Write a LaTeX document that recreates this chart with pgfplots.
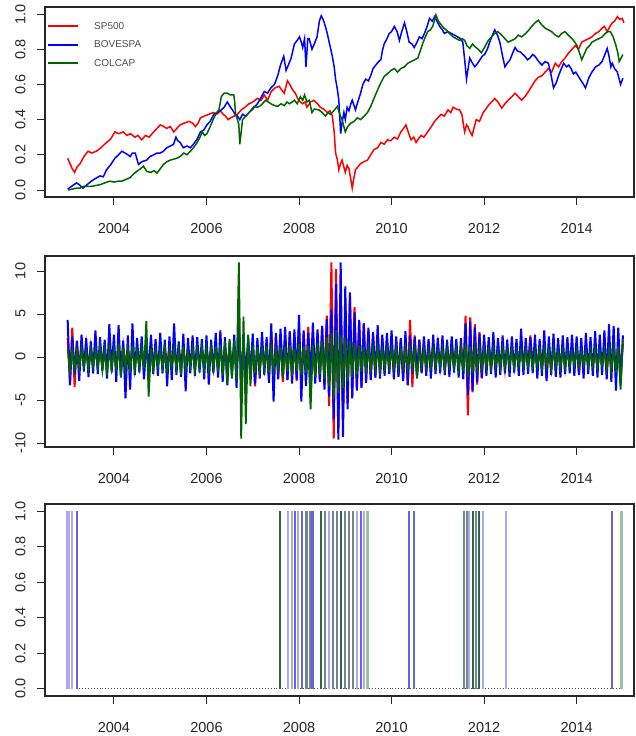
\documentclass[border=0pt]{standalone}
\usepackage{fontspec}
\setmainfont{Liberation Sans}
\usepackage{pgfplots}
\pgfplotsset{compat=1.18}
\definecolor{rred}{RGB}{255,0,0}
\definecolor{rblue}{RGB}{0,0,255}
\definecolor{rgreen}{RGB}{0,100,0}
\definecolor{lav}{RGB}{170,170,238}
\definecolor{mblue}{RGB}{100,100,220}
\definecolor{slate}{RGB}{112,135,140}
\definecolor{dgreen}{RGB}{50,100,70}
\definecolor{lgreen}{RGB}{155,195,155}
\pgfplotsset{
  rpanel/.style={
    scale only axis, width=589pt,
    xmin=2002.51, xmax=2015.24,
    xtick={2004,2006,2008,2010,2012,2014},
    axis line style={line width=1.1pt, black!85},
    tick style={line width=0.9pt, black!85},
    tick align=outside, major tick length=8pt,
    xtick pos=lower, ytick pos=left,
    /pgf/number format/assume math mode=true,
    /pgf/number format/1000 sep={},
    ticklabel style={font=\fontsize{14.5}{14.5}\selectfont, text=black!85},
    xticklabel style={yshift=-15pt},
    yticklabel style={rotate=90, anchor=south, yshift=8pt},
    clip=true,
  }
}
\begin{document}
\begin{tikzpicture}[x=1pt,y=1pt]
\useasboundingbox (0,0) rectangle (636,-736);
% ---------------- Panel 1: normalized prices
\begin{axis}[rpanel, at={(45pt,-7pt)}, anchor=north west, height=190pt,
  ymin=-0.04, ymax=1.04, ytick={0,0.2,0.4,0.6,0.8,1},
  yticklabel style={/pgf/number format/.cd, fixed, fixed zerofill, precision=1},
  legend style={at={(rel axis cs:0,1)}, anchor=north west, draw=none, fill=none,
    font=\fontsize{10}{12}\selectfont, text=black!70, row sep=6pt,
    inner xsep=2pt, inner ysep=13pt,
    /tikz/every odd column/.append style={column sep=13pt}},
  legend cell align=left,
  legend image code/.code={\draw[#1, line width=2pt] (0pt,0pt) -- (30pt,0pt);},
]
\addplot[rred, line width=1.5pt] coordinates {
(2003.00,0.18)(2003.05,0.15)(2003.10,0.12)(2003.15,0.10)(2003.20,0.13)(2003.27,0.15)(2003.35,0.19)(2003.44,0.22)(2003.52,0.21)(2003.62,0.22)(2003.72,0.24)(2003.84,0.27)(2003.93,0.29)
(2004.02,0.33)(2004.10,0.32)(2004.20,0.33)(2004.28,0.31)(2004.36,0.32)(2004.45,0.30)(2004.52,0.31)(2004.60,0.285)(2004.68,0.31)(2004.76,0.30)(2004.86,0.33)(2004.93,0.35)
(2005.00,0.37)(2005.08,0.36)(2005.14,0.35)(2005.22,0.36)(2005.29,0.33)(2005.36,0.35)(2005.43,0.37)(2005.52,0.38)(2005.62,0.39)(2005.70,0.38)(2005.76,0.36)(2005.82,0.38)(2005.87,0.41)(2005.95,0.42)
(2006.05,0.43)(2006.15,0.44)(2006.22,0.43)(2006.30,0.45)(2006.36,0.43)(2006.41,0.42)(2006.47,0.40)(2006.52,0.41)(2006.60,0.42)(2006.67,0.43)(2006.75,0.455)(2006.83,0.47)(2006.92,0.49)
(2007.00,0.50)(2007.10,0.52)(2007.18,0.51)(2007.25,0.54)(2007.32,0.51)(2007.40,0.56)(2007.48,0.58)(2007.57,0.59)(2007.62,0.57)(2007.68,0.55)(2007.75,0.62)(2007.80,0.60)(2007.86,0.57)(2007.92,0.55)(2007.97,0.52)
(2008.03,0.50)(2008.08,0.49)(2008.13,0.50)(2008.17,0.47)(2008.25,0.50)(2008.32,0.51)(2008.40,0.49)(2008.46,0.47)(2008.53,0.46)(2008.61,0.44)(2008.67,0.45)(2008.72,0.42)(2008.76,0.33)(2008.79,0.21)(2008.83,0.17)(2008.86,0.115)(2008.90,0.15)(2008.93,0.17)(2008.97,0.13)
(2009.00,0.10)(2009.04,0.14)(2009.08,0.12)(2009.12,0.06)(2009.15,0.01)(2009.18,0.06)(2009.22,0.115)(2009.27,0.13)(2009.33,0.15)(2009.40,0.16)(2009.48,0.17)(2009.55,0.20)(2009.62,0.23)(2009.70,0.24)(2009.77,0.27)(2009.84,0.26)(2009.91,0.285)(2009.98,0.28)
(2010.06,0.30)(2010.13,0.29)(2010.20,0.33)(2010.26,0.35)(2010.31,0.37)(2010.36,0.33)(2010.42,0.285)(2010.48,0.30)(2010.53,0.27)(2010.58,0.29)(2010.64,0.31)(2010.70,0.30)(2010.78,0.33)(2010.86,0.36)(2010.93,0.39)
(2011.00,0.41)(2011.07,0.43)(2011.14,0.42)(2011.22,0.455)(2011.28,0.44)(2011.33,0.47)(2011.40,0.46)(2011.47,0.455)(2011.52,0.43)(2011.56,0.36)(2011.58,0.33)(2011.62,0.37)(2011.65,0.36)(2011.70,0.33)(2011.74,0.31)(2011.79,0.36)(2011.83,0.40)(2011.90,0.39)(2011.98,0.44)
(2012.04,0.46)(2012.09,0.48)(2012.16,0.50)(2012.23,0.52)(2012.30,0.50)(2012.38,0.465)(2012.45,0.49)(2012.52,0.51)(2012.60,0.53)(2012.67,0.55)(2012.74,0.53)(2012.81,0.51)(2012.88,0.53)(2012.96,0.56)
(2013.03,0.59)(2013.10,0.62)(2013.17,0.64)(2013.25,0.65)(2013.32,0.67)(2013.39,0.69)(2013.46,0.67)(2013.54,0.72)(2013.61,0.70)(2013.68,0.73)(2013.75,0.75)(2013.83,0.78)(2013.90,0.80)(2013.97,0.82)
(2014.04,0.80)(2014.11,0.84)(2014.18,0.85)(2014.26,0.86)(2014.33,0.87)(2014.41,0.89)(2014.48,0.90)(2014.55,0.92)(2014.60,0.93)(2014.66,0.90)(2014.72,0.93)(2014.77,0.95)(2014.82,0.96)(2014.88,0.985)(2014.93,0.97)(2014.99,0.975)(2015.02,0.95)
};
\addlegendentry{SP500}
\addplot[rblue, line width=1.5pt] coordinates {
(2003.00,0.005)(2003.08,0.02)(2003.19,0.04)(2003.25,0.03)(2003.33,0.01)(2003.42,0.03)(2003.51,0.05)(2003.60,0.065)(2003.70,0.08)(2003.77,0.075)(2003.84,0.115)(2003.92,0.14)
(2004.02,0.18)(2004.10,0.20)(2004.17,0.22)(2004.24,0.21)(2004.30,0.20)(2004.35,0.19)(2004.40,0.21)(2004.46,0.21)(2004.53,0.145)(2004.60,0.16)(2004.71,0.17)(2004.78,0.19)(2004.86,0.20)(2004.93,0.21)
(2005.00,0.21)(2005.07,0.22)(2005.14,0.24)(2005.22,0.25)(2005.29,0.26)(2005.34,0.30)(2005.38,0.28)(2005.43,0.27)(2005.50,0.24)(2005.58,0.25)(2005.65,0.24)(2005.72,0.26)(2005.80,0.29)(2005.87,0.33)(2005.94,0.34)
(2006.01,0.37)(2006.08,0.39)(2006.16,0.43)(2006.23,0.44)(2006.30,0.45)(2006.38,0.47)(2006.45,0.50)(2006.52,0.47)(2006.56,0.455)(2006.62,0.43)(2006.67,0.42)(2006.72,0.40)(2006.78,0.43)(2006.85,0.42)(2006.92,0.44)
(2007.00,0.46)(2007.10,0.49)(2007.17,0.52)(2007.25,0.56)(2007.32,0.55)(2007.39,0.58)(2007.47,0.60)(2007.54,0.65)(2007.60,0.71)(2007.67,0.76)(2007.72,0.68)(2007.77,0.71)(2007.83,0.75)(2007.90,0.83)(2007.96,0.85)
(2008.01,0.87)(2008.05,0.84)(2008.08,0.81)(2008.12,0.86)(2008.15,0.70)(2008.19,0.86)(2008.22,0.86)(2008.28,0.80)(2008.33,0.83)(2008.39,0.87)(2008.44,0.96)(2008.48,0.99)(2008.52,0.97)(2008.57,0.93)(2008.61,0.89)(2008.66,0.83)(2008.72,0.76)(2008.76,0.70)(2008.79,0.63)(2008.83,0.57)(2008.86,0.51)(2008.88,0.42)(2008.90,0.32)(2008.93,0.38)(2008.97,0.44)
(2009.00,0.40)(2009.04,0.47)(2009.08,0.45)(2009.12,0.49)(2009.15,0.51)(2009.19,0.48)(2009.22,0.455)(2009.27,0.50)(2009.33,0.55)(2009.38,0.60)(2009.44,0.63)(2009.50,0.62)(2009.55,0.65)(2009.60,0.69)(2009.66,0.71)(2009.72,0.73)(2009.77,0.74)(2009.80,0.79)(2009.84,0.83)(2009.90,0.86)(2009.95,0.89)
(2010.00,0.90)(2010.06,0.93)(2010.12,0.90)(2010.17,0.85)(2010.22,0.90)(2010.28,0.95)(2010.33,0.90)(2010.38,0.84)(2010.44,0.83)(2010.49,0.81)(2010.55,0.84)(2010.60,0.87)(2010.66,0.86)(2010.71,0.89)(2010.77,0.93)(2010.82,0.975)(2010.88,0.96)(2010.93,0.985)(2010.98,0.96)
(2011.04,0.93)(2011.10,0.91)(2011.14,0.89)(2011.22,0.90)(2011.29,0.89)(2011.36,0.88)(2011.43,0.87)(2011.49,0.86)(2011.54,0.84)(2011.58,0.74)(2011.62,0.63)(2011.66,0.70)(2011.69,0.75)(2011.75,0.72)(2011.80,0.70)(2011.86,0.72)(2011.91,0.74)(2011.96,0.76)
(2012.01,0.77)(2012.07,0.80)(2012.12,0.84)(2012.18,0.88)(2012.23,0.91)(2012.29,0.88)(2012.34,0.84)(2012.40,0.76)(2012.45,0.70)(2012.50,0.72)(2012.56,0.74)(2012.62,0.78)(2012.67,0.81)(2012.72,0.79)(2012.78,0.785)(2012.84,0.77)(2012.88,0.76)(2012.94,0.74)(2012.99,0.75)
(2013.05,0.77)(2013.10,0.76)(2013.18,0.73)(2013.25,0.71)(2013.32,0.73)(2013.39,0.72)(2013.45,0.65)(2013.50,0.58)(2013.56,0.61)(2013.61,0.65)(2013.67,0.69)(2013.72,0.72)(2013.78,0.70)(2013.83,0.71)(2013.88,0.69)(2013.93,0.66)(2013.98,0.67)
(2014.04,0.645)(2014.10,0.62)(2014.15,0.60)(2014.19,0.58)(2014.23,0.61)(2014.26,0.635)(2014.33,0.67)(2014.41,0.70)(2014.48,0.71)(2014.55,0.73)(2014.61,0.77)(2014.66,0.805)(2014.70,0.76)(2014.74,0.70)(2014.77,0.72)(2014.82,0.69)(2014.88,0.67)(2014.92,0.63)(2014.95,0.60)(2015.00,0.635)
};
\addlegendentry{BOVESPA}
\addplot[rgreen, line width=1.5pt] coordinates {
(2003.01,0.00)(2003.10,0.005)(2003.18,0.01)(2003.26,0.01)(2003.34,0.02)(2003.41,0.02)(2003.50,0.02)(2003.60,0.025)(2003.70,0.03)(2003.80,0.04)(2003.91,0.05)
(2004.00,0.045)(2004.10,0.05)(2004.17,0.05)(2004.26,0.06)(2004.35,0.07)(2004.42,0.09)(2004.49,0.105)(2004.57,0.12)(2004.64,0.135)(2004.71,0.105)(2004.80,0.10)(2004.87,0.11)(2004.93,0.096)
(2005.00,0.12)(2005.07,0.145)(2005.14,0.16)(2005.22,0.17)(2005.29,0.175)(2005.36,0.18)(2005.43,0.19)(2005.51,0.21)(2005.58,0.20)(2005.65,0.22)(2005.72,0.24)(2005.80,0.27)(2005.86,0.30)(2005.91,0.33)(2005.96,0.31)
(2006.01,0.32)(2006.08,0.36)(2006.16,0.41)(2006.22,0.44)(2006.27,0.455)(2006.30,0.50)(2006.32,0.53)(2006.38,0.55)(2006.45,0.55)(2006.52,0.54)(2006.59,0.54)(2006.61,0.50)(2006.63,0.43)(2006.67,0.40)(2006.70,0.37)(2006.72,0.26)(2006.75,0.33)(2006.78,0.40)(2006.85,0.42)(2006.92,0.44)
(2007.03,0.475)(2007.10,0.47)(2007.17,0.48)(2007.28,0.51)(2007.34,0.50)(2007.39,0.49)(2007.47,0.48)(2007.54,0.475)(2007.61,0.49)(2007.68,0.48)(2007.74,0.50)(2007.79,0.49)(2007.85,0.50)(2007.90,0.51)(2007.96,0.49)
(2008.03,0.53)(2008.08,0.51)(2008.12,0.54)(2008.17,0.50)(2008.22,0.51)(2008.28,0.44)(2008.33,0.46)(2008.43,0.455)(2008.50,0.44)(2008.57,0.42)(2008.63,0.44)(2008.68,0.43)(2008.75,0.45)(2008.83,0.475)(2008.88,0.43)(2008.93,0.40)(2008.97,0.36)
(2009.00,0.33)(2009.05,0.36)(2009.12,0.38)(2009.19,0.39)(2009.26,0.41)(2009.33,0.40)(2009.41,0.42)(2009.48,0.44)(2009.55,0.475)(2009.62,0.52)(2009.70,0.57)(2009.77,0.61)(2009.84,0.645)(2009.91,0.66)(2009.99,0.68)
(2010.06,0.69)(2010.13,0.67)(2010.20,0.69)(2010.28,0.70)(2010.35,0.72)(2010.42,0.73)(2010.50,0.74)(2010.57,0.75)(2010.62,0.79)(2010.67,0.83)(2010.73,0.87)(2010.78,0.90)(2010.84,0.91)(2010.89,0.93)(2010.96,0.995)
(2011.01,0.96)(2011.07,0.94)(2011.13,0.92)(2011.18,0.91)(2011.25,0.89)(2011.33,0.87)(2011.40,0.86)(2011.47,0.85)(2011.53,0.86)(2011.58,0.85)(2011.63,0.82)(2011.69,0.805)(2011.75,0.83)(2011.80,0.815)(2011.87,0.80)(2011.94,0.78)
(2012.01,0.81)(2012.09,0.85)(2012.16,0.87)(2012.23,0.89)(2012.30,0.90)(2012.38,0.88)(2012.45,0.86)(2012.52,0.84)(2012.60,0.85)(2012.67,0.86)(2012.74,0.88)(2012.81,0.87)(2012.90,0.89)(2012.97,0.91)
(2013.03,0.93)(2013.10,0.95)(2013.17,0.965)(2013.24,0.94)(2013.32,0.92)(2013.39,0.91)(2013.46,0.90)(2013.54,0.88)(2013.61,0.87)(2013.68,0.89)(2013.75,0.90)(2013.82,0.88)(2013.90,0.86)(2013.96,0.84)
(2014.01,0.82)(2014.06,0.78)(2014.11,0.74)(2014.16,0.77)(2014.22,0.805)(2014.28,0.82)(2014.33,0.84)(2014.40,0.85)(2014.48,0.86)(2014.55,0.87)(2014.62,0.89)(2014.68,0.90)(2014.73,0.90)(2014.79,0.87)(2014.84,0.83)(2014.89,0.78)(2014.92,0.73)(2014.96,0.75)(2015.00,0.77)
};
\addlegendentry{COLCAP}
\end{axis}
% ---------------- Panel 2: returns
\begin{axis}[rpanel, at={(45pt,-256pt)}, anchor=north west, height=191pt,
  ymin=-10.47, ymax=11.74, ytick={-10,-5,0,5,10}]
\addplot[rred, line width=2pt] coordinates {
(2003.00,2.2)(2003.05,-2.9)(2003.10,3.4)(2003.15,-3.5)(2003.20,1.8)(2003.25,-1.5)(2003.30,1.6)(2003.35,-1.2)(2003.40,1.4)(2003.45,-1.3)(2003.50,1.2)(2003.55,-1.1)(2003.60,1.3)(2003.65,-1.0)(2003.70,1.1)(2003.75,-1.2)(2003.80,1.0)(2003.85,-0.9)(2003.90,1.2)(2003.95,-1.0)
(2004.00,1.1)(2004.05,-1.2)(2004.10,1.0)(2004.15,-1.4)(2004.20,1.3)(2004.25,-0.9)(2004.30,1.0)(2004.35,-1.1)(2004.40,1.2)(2004.45,-1.0)(2004.50,0.9)(2004.55,-1.1)(2004.60,1.0)(2004.65,-0.8)(2004.70,0.9)(2004.75,-1.0)(2004.80,1.1)(2004.85,-0.9)(2004.90,1.0)(2004.95,-0.8)
(2005.00,0.9)(2005.05,-1.1)(2005.10,1.0)(2005.15,-0.9)(2005.20,1.1)(2005.25,-1.0)(2005.30,0.9)(2005.35,-1.2)(2005.40,1.0)(2005.45,-0.8)(2005.50,0.9)(2005.55,-1.0)(2005.60,1.1)(2005.65,-0.9)(2005.70,1.0)(2005.75,-1.1)(2005.80,0.9)(2005.85,-0.8)(2005.90,1.0)(2005.95,-0.9)
(2006.00,1.0)(2006.05,-0.9)(2006.10,1.1)(2006.15,-1.2)(2006.20,1.3)(2006.25,-1.6)(2006.30,1.2)(2006.35,-1.0)(2006.40,1.1)(2006.45,-0.9)(2006.50,1.0)(2006.55,-1.1)(2006.60,0.9)(2006.65,-1.0)(2006.70,1.2)(2006.75,-0.8)(2006.80,0.9)(2006.85,-1.0)(2006.90,1.0)(2006.95,-0.9)
(2007.00,1.1)(2007.05,-3.4)(2007.10,1.4)(2007.15,-1.3)(2007.20,1.6)(2007.25,-1.4)(2007.30,1.5)(2007.35,-2.6)(2007.40,2.9)(2007.45,-3.1)(2007.50,2.5)(2007.55,-2.2)(2007.60,2.6)(2007.65,-2.9)(2007.70,2.3)(2007.75,-2.7)(2007.80,3.0)(2007.85,-2.4)(2007.90,2.5)(2007.95,-2.8)
(2008.00,3.4)(2008.05,-3.2)(2008.10,2.9)(2008.15,-2.6)(2008.20,3.5)(2008.25,-3.0)(2008.30,2.7)(2008.35,-2.5)(2008.40,2.8)(2008.45,-2.6)(2008.50,3.6)(2008.55,-3.3)(2008.60,4.8)(2008.65,-5.7)(2008.70,11.0)(2008.75,-9.5)(2008.80,10.2)(2008.85,-8.4)(2008.90,6.8)(2008.95,-7.2)
(2009.00,6.2)(2009.05,-5.4)(2009.10,7.1)(2009.15,-4.6)(2009.20,5.8)(2009.25,-3.7)(2009.30,4.2)(2009.35,-3.4)(2009.40,3.9)(2009.45,-2.8)(2009.50,3.1)(2009.55,-2.5)(2009.60,2.7)(2009.65,-2.4)(2009.70,2.3)(2009.75,-2.0)(2009.80,2.1)(2009.85,-1.9)(2009.90,2.0)(2009.95,-1.8)
(2010.00,2.2)(2010.05,-2.0)(2010.10,1.9)(2010.15,-2.1)(2010.20,2.0)(2010.25,-2.6)(2010.30,2.4)(2010.35,-3.2)(2010.40,4.3)(2010.45,-3.5)(2010.50,2.5)(2010.55,-2.2)(2010.60,2.0)(2010.65,-1.8)(2010.70,1.7)(2010.75,-1.6)(2010.80,1.8)(2010.85,-1.4)(2010.90,1.5)(2010.95,-1.3)
(2011.00,1.4)(2011.05,-1.2)(2011.10,1.3)(2011.15,-1.5)(2011.20,1.4)(2011.25,-1.6)(2011.30,1.8)(2011.35,-1.3)(2011.40,1.5)(2011.45,-1.4)(2011.50,1.2)(2011.55,-1.8)(2011.60,4.8)(2011.65,-6.8)(2011.70,4.6)(2011.75,-4.1)(2011.80,3.8)(2011.85,-3.2)(2011.90,2.9)(2011.95,-2.5)
(2012.00,1.9)(2012.05,-1.6)(2012.10,1.5)(2012.15,-1.3)(2012.20,1.4)(2012.25,-1.7)(2012.30,1.6)(2012.35,-1.5)(2012.40,1.3)(2012.45,-1.4)(2012.50,1.2)(2012.55,-1.1)(2012.60,1.3)(2012.65,-1.2)(2012.70,1.1)(2012.75,-1.0)(2012.80,1.6)(2012.85,-1.4)(2012.90,1.2)(2012.95,-1.0)
(2013.00,2.5)(2013.05,-1.2)(2013.10,1.1)(2013.15,-1.4)(2013.20,1.3)(2013.25,-1.5)(2013.30,1.6)(2013.35,-2.5)(2013.40,1.4)(2013.45,-1.3)(2013.50,1.2)(2013.55,-1.6)(2013.60,1.4)(2013.65,-1.2)(2013.70,1.1)(2013.75,-1.3)(2013.80,1.2)(2013.85,-1.0)(2013.90,1.1)(2013.95,-0.9)
(2014.00,1.2)(2014.05,-1.9)(2014.10,1.1)(2014.15,-1.3)(2014.20,1.2)(2014.25,-1.1)(2014.30,1.0)(2014.35,-1.2)(2014.40,1.1)(2014.45,-1.3)(2014.50,1.2)(2014.55,-1.0)(2014.60,1.1)(2014.65,-2.0)(2014.70,1.3)(2014.75,-1.5)(2014.80,1.6)(2014.85,-2.2)(2014.90,1.9)(2014.95,-1.7)
(2015.00,1.5)
};
\addplot[rblue, line width=2pt] coordinates {
(2003.00,4.3)(2003.05,-3.3)(2003.10,2.4)(2003.15,-2.1)(2003.20,1.9)(2003.25,-2.8)(2003.30,2.6)(2003.35,-1.7)(2003.40,2.2)(2003.45,-2.3)(2003.50,1.8)(2003.55,-1.9)(2003.60,3.1)(2003.65,-2.0)(2003.70,2.3)(2003.75,-1.6)(2003.80,2.0)(2003.85,-2.5)(2003.90,3.8)(2003.95,-1.8)
(2004.00,2.6)(2004.05,-2.9)(2004.10,3.7)(2004.15,-2.2)(2004.20,1.9)(2004.25,-4.8)(2004.30,2.5)(2004.35,-3.8)(2004.40,3.9)(2004.45,-2.1)(2004.50,2.2)(2004.55,-1.8)(2004.60,2.4)(2004.65,-2.6)(2004.70,1.8)(2004.75,-1.7)(2004.80,2.6)(2004.85,-2.0)(2004.90,2.1)(2004.95,-2.2)
(2005.00,2.8)(2005.05,-1.9)(2005.10,2.0)(2005.15,-3.4)(2005.20,2.4)(2005.25,-2.7)(2005.30,3.9)(2005.35,-2.1)(2005.40,1.8)(2005.45,-2.3)(2005.50,2.7)(2005.55,-4.0)(2005.60,2.2)(2005.65,-1.9)(2005.70,2.5)(2005.75,-2.2)(2005.80,2.3)(2005.85,-1.8)(2005.90,2.1)(2005.95,-2.6)
(2006.00,2.5)(2006.05,-3.2)(2006.10,2.0)(2006.15,-1.9)(2006.20,2.8)(2006.25,-2.4)(2006.30,3.1)(2006.35,-2.9)(2006.40,2.3)(2006.45,-3.3)(2006.50,1.9)(2006.55,-2.2)(2006.60,2.6)(2006.65,-3.6)(2006.70,4.0)(2006.75,-2.8)(2006.80,2.2)(2006.85,-2.6)(2006.90,2.4)(2006.95,-2.0)
(2007.00,2.7)(2007.05,-3.1)(2007.10,2.2)(2007.15,-2.5)(2007.20,2.9)(2007.25,-2.1)(2007.30,2.3)(2007.35,-3.0)(2007.40,3.9)(2007.45,-5.2)(2007.50,2.8)(2007.55,-2.6)(2007.60,3.3)(2007.65,-2.4)(2007.70,3.5)(2007.75,-2.7)(2007.80,2.9)(2007.85,-3.1)(2007.90,3.2)(2007.95,-2.6)
(2008.00,4.9)(2008.05,-5.2)(2008.10,3.1)(2008.15,-3.4)(2008.20,2.8)(2008.25,-2.5)(2008.30,4.0)(2008.35,-3.1)(2008.40,3.2)(2008.45,-2.9)(2008.50,3.6)(2008.55,-3.8)(2008.60,4.4)(2008.65,-4.6)(2008.70,5.5)(2008.75,-7.2)(2008.80,8.5)(2008.85,-9.6)(2008.90,11.0)(2008.95,-9.3)
(2009.00,8.2)(2009.05,-6.1)(2009.10,7.5)(2009.15,-4.8)(2009.20,5.2)(2009.25,-3.9)(2009.30,4.3)(2009.35,-3.6)(2009.40,3.9)(2009.45,-3.0)(2009.50,3.4)(2009.55,-2.7)(2009.60,2.9)(2009.65,-2.4)(2009.70,3.7)(2009.75,-2.5)(2009.80,2.6)(2009.85,-2.2)(2009.90,2.8)(2009.95,-2.0)
(2010.00,3.1)(2010.05,-2.6)(2010.10,2.4)(2010.15,-2.3)(2010.20,2.2)(2010.25,-2.8)(2010.30,3.0)(2010.35,-3.3)(2010.40,2.5)(2010.45,-2.0)(2010.50,2.3)(2010.55,-2.1)(2010.60,2.0)(2010.65,-1.9)(2010.70,2.4)(2010.75,-2.2)(2010.80,2.1)(2010.85,-2.5)(2010.90,2.6)(2010.95,-2.0)
(2011.00,2.2)(2011.05,-1.9)(2011.10,2.5)(2011.15,-2.1)(2011.20,2.0)(2011.25,-2.3)(2011.30,2.4)(2011.35,-1.8)(2011.40,2.1)(2011.45,-2.4)(2011.50,2.2)(2011.55,-2.6)(2011.60,3.9)(2011.65,-4.4)(2011.70,4.1)(2011.75,-3.9)(2011.80,3.4)(2011.85,-2.9)(2011.90,2.7)(2011.95,-2.4)
(2012.00,2.6)(2012.05,-2.2)(2012.10,2.3)(2012.15,-2.0)(2012.20,2.9)(2012.25,-2.4)(2012.30,2.2)(2012.35,-2.1)(2012.40,2.5)(2012.45,-1.9)(2012.50,2.0)(2012.55,-2.3)(2012.60,2.4)(2012.65,-1.8)(2012.70,2.1)(2012.75,-2.2)(2012.80,3.3)(2012.85,-2.1)(2012.90,2.2)(2012.95,-2.0)
(2013.00,2.3)(2013.05,-1.9)(2013.10,2.6)(2013.15,-2.5)(2013.20,2.1)(2013.25,-2.2)(2013.30,3.1)(2013.35,-2.8)(2013.40,2.4)(2013.45,-2.1)(2013.50,2.7)(2013.55,-2.3)(2013.60,2.2)(2013.65,-2.4)(2013.70,2.5)(2013.75,-2.0)(2013.80,2.3)(2013.85,-1.9)(2013.90,2.6)(2013.95,-2.2)
(2014.00,2.4)(2014.05,-2.1)(2014.10,2.2)(2014.15,-2.5)(2014.20,2.8)(2014.25,-2.0)(2014.30,2.3)(2014.35,-2.2)(2014.40,3.0)(2014.45,-2.4)(2014.50,2.6)(2014.55,-2.1)(2014.60,3.1)(2014.65,-2.6)(2014.70,3.8)(2014.75,-2.9)(2014.80,3.6)(2014.85,-3.9)(2014.90,3.4)(2014.95,-3.2)
(2015.00,2.5)
};
\addplot[rgreen, line width=1.8pt] coordinates {
(2003.00,0.9)(2003.05,-1.6)(2003.10,0.8)(2003.15,-1.4)(2003.20,0.7)(2003.25,-1.2)(2003.30,0.9)(2003.35,-1.1)(2003.40,0.6)(2003.45,-1.3)(2003.50,0.8)(2003.55,-1.0)(2003.60,0.7)(2003.65,-1.2)(2003.70,1.2)(2003.75,-1.5)(2003.80,0.8)(2003.85,-2.1)(2003.90,0.9)(2003.95,-1.3)
(2004.00,0.8)(2004.05,-1.6)(2004.10,1.5)(2004.15,-2.4)(2004.20,1.1)(2004.25,-1.4)(2004.30,0.9)(2004.35,-1.8)(2004.40,1.3)(2004.45,-1.5)(2004.50,0.8)(2004.55,-1.2)(2004.60,1.0)(2004.65,-1.3)(2004.70,4.2)(2004.75,-4.6)(2004.80,0.9)(2004.85,-1.4)(2004.90,0.7)(2004.95,-1.1)
(2005.00,0.8)(2005.05,-1.2)(2005.10,0.9)(2005.15,-1.5)(2005.20,0.7)(2005.25,-1.1)(2005.30,1.0)(2005.35,-1.3)(2005.40,0.8)(2005.45,-2.0)(2005.50,1.2)(2005.55,-1.4)(2005.60,0.6)(2005.65,-1.1)(2005.70,0.9)(2005.75,-1.6)(2005.80,0.8)(2005.85,-1.2)(2005.90,1.1)(2005.95,-1.4)
(2006.00,1.0)(2006.05,-1.5)(2006.10,0.9)(2006.15,-1.3)(2006.20,1.2)(2006.25,-1.7)(2006.30,1.4)(2006.35,-2.2)(2006.40,1.8)(2006.45,-3.1)(2006.50,2.1)(2006.55,-2.5)(2006.60,1.9)(2006.65,-2.8)(2006.70,11.0)(2006.75,-9.5)(2006.80,4.7)(2006.85,-7.8)(2006.90,2.6)(2006.95,-3.4)
(2007.00,1.3)(2007.05,-1.9)(2007.10,1.1)(2007.15,-1.6)(2007.20,0.9)(2007.25,-1.4)(2007.30,1.2)(2007.35,-1.8)(2007.40,1.0)(2007.45,-1.5)(2007.50,0.8)(2007.55,-1.3)(2007.60,1.1)(2007.65,-2.4)(2007.70,1.2)(2007.75,-1.7)(2007.80,1.4)(2007.85,-2.2)(2007.90,1.0)(2007.95,-1.6)
(2008.00,1.5)(2008.05,-2.1)(2008.10,1.2)(2008.15,-1.8)(2008.20,1.3)(2008.25,-6.1)(2008.30,1.4)(2008.35,-2.3)(2008.40,1.6)(2008.45,-2.0)(2008.50,1.8)(2008.55,-2.6)(2008.60,2.3)(2008.65,-3.4)(2008.70,2.8)(2008.75,-4.9)(2008.80,3.1)(2008.85,-4.2)(2008.90,2.5)(2008.95,-3.6)
(2009.00,2.2)(2009.05,-2.8)(2009.10,1.9)(2009.15,-2.3)(2009.20,1.6)(2009.25,-2.0)(2009.30,1.3)(2009.35,-1.7)(2009.40,1.2)(2009.45,-1.5)(2009.50,1.0)(2009.55,-1.4)(2009.60,0.9)(2009.65,-1.3)(2009.70,1.1)(2009.75,-1.6)(2009.80,0.8)(2009.85,-1.2)(2009.90,0.9)(2009.95,-1.1)
(2010.00,0.8)(2010.05,-1.3)(2010.10,1.0)(2010.15,-1.2)(2010.20,0.7)(2010.25,-1.1)(2010.30,0.9)(2010.35,-1.4)(2010.40,1.0)(2010.45,-1.2)(2010.50,0.8)(2010.55,-2.5)(2010.60,0.7)(2010.65,-1.0)(2010.70,0.9)(2010.75,-1.2)(2010.80,0.6)(2010.85,-1.1)(2010.90,0.8)(2010.95,-1.0)
(2011.00,0.7)(2011.05,-1.1)(2011.10,0.9)(2011.15,-1.3)(2011.20,0.8)(2011.25,-1.0)(2011.30,0.7)(2011.35,-1.2)(2011.40,0.9)(2011.45,-1.4)(2011.50,1.0)(2011.55,-1.6)(2011.60,1.5)(2011.65,-2.3)(2011.70,1.2)(2011.75,-1.8)(2011.80,1.0)(2011.85,-1.4)(2011.90,0.8)(2011.95,-1.2)
(2012.00,0.9)(2012.05,-1.1)(2012.10,0.7)(2012.15,-1.3)(2012.20,0.8)(2012.25,-1.0)(2012.30,0.6)(2012.35,-1.2)(2012.40,0.9)(2012.45,-1.1)(2012.50,0.7)(2012.55,-1.0)(2012.60,0.8)(2012.65,-1.2)(2012.70,0.6)(2012.75,-0.9)(2012.80,0.7)(2012.85,-1.1)(2012.90,0.8)(2012.95,-1.0)
(2013.00,0.7)(2013.05,-1.2)(2013.10,0.6)(2013.15,-1.0)(2013.20,0.8)(2013.25,-1.3)(2013.30,0.9)(2013.35,-1.1)(2013.40,0.7)(2013.45,-1.4)(2013.50,0.8)(2013.55,-1.0)(2013.60,0.6)(2013.65,-1.2)(2013.70,0.7)(2013.75,-1.1)(2013.80,0.5)(2013.85,-1.0)(2013.90,0.6)(2013.95,-0.9)
(2014.00,0.7)(2014.05,-1.0)(2014.10,0.5)(2014.15,-0.9)(2014.20,0.6)(2014.25,-1.1)(2014.30,0.7)(2014.35,-1.0)(2014.40,0.8)(2014.45,-1.2)(2014.50,0.6)(2014.55,-1.0)(2014.60,0.7)(2014.65,-1.3)(2014.70,0.9)(2014.75,-1.5)(2014.80,1.0)(2014.85,-1.8)(2014.90,1.2)(2014.95,-3.8)
(2015.00,2.0)
};
\end{axis}
% ---------------- Panel 3: regime indicators
\begin{axis}[rpanel, at={(45pt,-504pt)}, anchor=north west, height=192pt,
  ymin=-0.04, ymax=1.04, ytick={0,0.2,0.4,0.6,0.8,1},
  yticklabel style={/pgf/number format/.cd, fixed, fixed zerofill, precision=1}]
\addplot[black!70, dotted, line width=0.9pt] coordinates {(2003.25,0)(2014.97,0)};
\addplot[lav, ycomb, line width=2.2pt] coordinates {
(2002.98,1)(2003.03,1)(2003.09,1)(2007.77,1)(2007.85,1)(2007.98,1)(2008.65,1)(2009.25,1)(2009.40,1)(2011.68,1)(2011.97,1)(2012.47,1)};
\addplot[mblue, ycomb, line width=2.2pt] coordinates {
(2003.20,1)(2007.91,1)(2008.07,1)(2008.29,1)(2009.34,1)(2010.38,1)(2010.48,1)(2014.77,1)};
\addplot[slate, ycomb, line width=2.2pt] coordinates {
(2008.16,1)(2008.23,1)(2008.56,1)(2008.73,1)(2008.82,1)(2008.99,1)(2009.08,1)(2009.17,1)(2011.56,1)(2011.63,1)(2011.82,1)};
\addplot[dgreen, ycomb, line width=2.2pt] coordinates {
(2007.59,1)(2008.48,1)(2008.91,1)(2011.76,1)(2011.89,1)};
\addplot[lgreen, ycomb, line width=2.2pt] coordinates {
(2009.48,1)(2014.97,1)};
\end{axis}
\end{tikzpicture}
\end{document}
